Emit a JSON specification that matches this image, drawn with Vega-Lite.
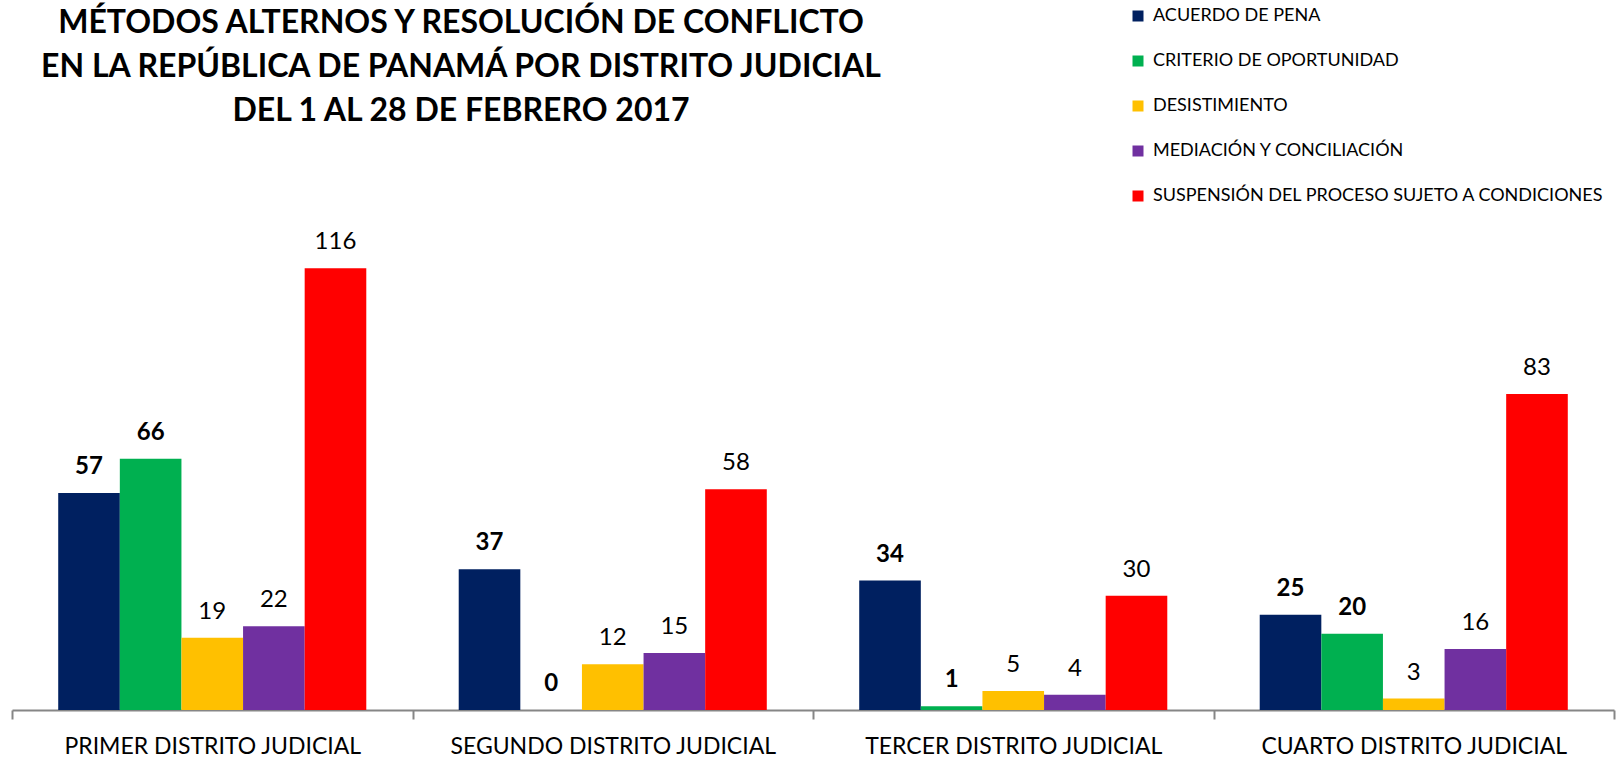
{
  "$schema": "https://vega.github.io/schema/vega-lite/v6.json",
  "width": 1602,
  "height": 533,
  "autosize": {"type": "none"},
  "padding": {"left": 12, "top": 177, "right": 5, "bottom": 50},
  "background": "white",
  "title": {
    "text": ["MÉTODOS ALTERNOS Y RESOLUCIÓN DE CONFLICTO", "EN LA REPÚBLICA DE PANAMÁ POR DISTRITO JUDICIAL", "DEL 1 AL 28 DE FEBRERO 2017"],
    "anchor": "start",
    "align": "center",
    "dx": 450,
    "dy": 178,
    "offset": 57,
    "font": "Lato",
    "fontSize": 32,
    "fontWeight": "bold",
    "lineHeight": 44,
    "color": "black"
  },
  "data": {
    "values": [
      {"distrito": "PRIMER DISTRITO JUDICIAL", "metodo": "ACUERDO DE PENA", "valor": 57},
      {"distrito": "PRIMER DISTRITO JUDICIAL", "metodo": "CRITERIO DE OPORTUNIDAD", "valor": 66},
      {"distrito": "PRIMER DISTRITO JUDICIAL", "metodo": "DESISTIMIENTO", "valor": 19},
      {"distrito": "PRIMER DISTRITO JUDICIAL", "metodo": "MEDIACIÓN Y CONCILIACIÓN", "valor": 22},
      {"distrito": "PRIMER DISTRITO JUDICIAL", "metodo": "SUSPENSIÓN DEL PROCESO SUJETO A CONDICIONES", "valor": 116},
      {"distrito": "SEGUNDO DISTRITO JUDICIAL", "metodo": "ACUERDO DE PENA", "valor": 37},
      {"distrito": "SEGUNDO DISTRITO JUDICIAL", "metodo": "CRITERIO DE OPORTUNIDAD", "valor": 0},
      {"distrito": "SEGUNDO DISTRITO JUDICIAL", "metodo": "DESISTIMIENTO", "valor": 12},
      {"distrito": "SEGUNDO DISTRITO JUDICIAL", "metodo": "MEDIACIÓN Y CONCILIACIÓN", "valor": 15},
      {"distrito": "SEGUNDO DISTRITO JUDICIAL", "metodo": "SUSPENSIÓN DEL PROCESO SUJETO A CONDICIONES", "valor": 58},
      {"distrito": "TERCER DISTRITO JUDICIAL", "metodo": "ACUERDO DE PENA", "valor": 34},
      {"distrito": "TERCER DISTRITO JUDICIAL", "metodo": "CRITERIO DE OPORTUNIDAD", "valor": 1},
      {"distrito": "TERCER DISTRITO JUDICIAL", "metodo": "DESISTIMIENTO", "valor": 5},
      {"distrito": "TERCER DISTRITO JUDICIAL", "metodo": "MEDIACIÓN Y CONCILIACIÓN", "valor": 4},
      {"distrito": "TERCER DISTRITO JUDICIAL", "metodo": "SUSPENSIÓN DEL PROCESO SUJETO A CONDICIONES", "valor": 30},
      {"distrito": "CUARTO DISTRITO JUDICIAL", "metodo": "ACUERDO DE PENA", "valor": 25},
      {"distrito": "CUARTO DISTRITO JUDICIAL", "metodo": "CRITERIO DE OPORTUNIDAD", "valor": 20},
      {"distrito": "CUARTO DISTRITO JUDICIAL", "metodo": "DESISTIMIENTO", "valor": 3},
      {"distrito": "CUARTO DISTRITO JUDICIAL", "metodo": "MEDIACIÓN Y CONCILIACIÓN", "valor": 16},
      {"distrito": "CUARTO DISTRITO JUDICIAL", "metodo": "SUSPENSIÓN DEL PROCESO SUJETO A CONDICIONES", "valor": 83}
    ]
  },
  "encoding": {
    "x": {
      "field": "distrito",
      "type": "nominal",
      "sort": ["PRIMER DISTRITO JUDICIAL", "SEGUNDO DISTRITO JUDICIAL", "TERCER DISTRITO JUDICIAL", "CUARTO DISTRITO JUDICIAL"],
      "scale": {"paddingInner": 0, "paddingOuter": 0},
      "axis": {
        "title": null,
        "labelAngle": 0,
        "labelFont": "Lato",
        "labelFontSize": 23,
        "labelColor": "black",
        "labelPadding": 16,
        "labelLimit": 500,
        "domainColor": "#868686",
        "domainWidth": 2,
        "tickColor": "#868686",
        "tickWidth": 2,
        "tickSize": 9,
        "tickBand": "extent",
        "grid": false
      }
    },
    "xOffset": {
      "field": "metodo",
      "type": "nominal",
      "sort": ["ACUERDO DE PENA", "CRITERIO DE OPORTUNIDAD", "DESISTIMIENTO", "MEDIACIÓN Y CONCILIACIÓN", "SUSPENSIÓN DEL PROCESO SUJETO A CONDICIONES"],
      "scale": {"paddingInner": 0, "paddingOuter": 0.75}
    },
    "y": {
      "field": "valor",
      "type": "quantitative",
      "scale": {"domain": [0, 140], "nice": false},
      "axis": null
    }
  },
  "layer": [
    {
      "mark": {"type": "bar"},
      "encoding": {
        "color": {
          "field": "metodo",
          "type": "nominal",
          "sort": ["ACUERDO DE PENA", "CRITERIO DE OPORTUNIDAD", "DESISTIMIENTO", "MEDIACIÓN Y CONCILIACIÓN", "SUSPENSIÓN DEL PROCESO SUJETO A CONDICIONES"],
          "scale": {
            "domain": ["ACUERDO DE PENA", "CRITERIO DE OPORTUNIDAD", "DESISTIMIENTO", "MEDIACIÓN Y CONCILIACIÓN", "SUSPENSIÓN DEL PROCESO SUJETO A CONDICIONES"],
            "range": ["#002060", "#00B050", "#FFC000", "#7030A0", "#FF0000"]
          },
          "legend": {
            "title": null,
            "orient": "none",
            "legendX": 1117,
            "legendY": -170,
            "direction": "vertical",
            "symbolType": "square",
            "symbolSize": 121,
            "symbolStrokeWidth": 0,
            "labelFont": "Lato",
            "labelFontSize": 18,
            "labelColor": "black",
            "labelLimit": 600,
            "labelOffset": 6,
            "rowPadding": 27
          }
        }
      }
    },
    {
      "transform": [{"filter": "datum.metodo == 'ACUERDO DE PENA' || datum.metodo == 'CRITERIO DE OPORTUNIDAD'"}],
      "mark": {"type": "text", "baseline": "bottom", "dy": -14, "font": "Lato", "fontSize": 24, "fontWeight": "bold", "color": "black"},
      "encoding": {"text": {"field": "valor", "type": "quantitative"}}
    },
    {
      "transform": [{"filter": "datum.metodo != 'ACUERDO DE PENA' && datum.metodo != 'CRITERIO DE OPORTUNIDAD'"}],
      "mark": {"type": "text", "baseline": "bottom", "dy": -14, "font": "Lato", "fontSize": 24, "color": "black"},
      "encoding": {"text": {"field": "valor", "type": "quantitative"}}
    }
  ],
  "config": {"view": {"stroke": null}}
}
